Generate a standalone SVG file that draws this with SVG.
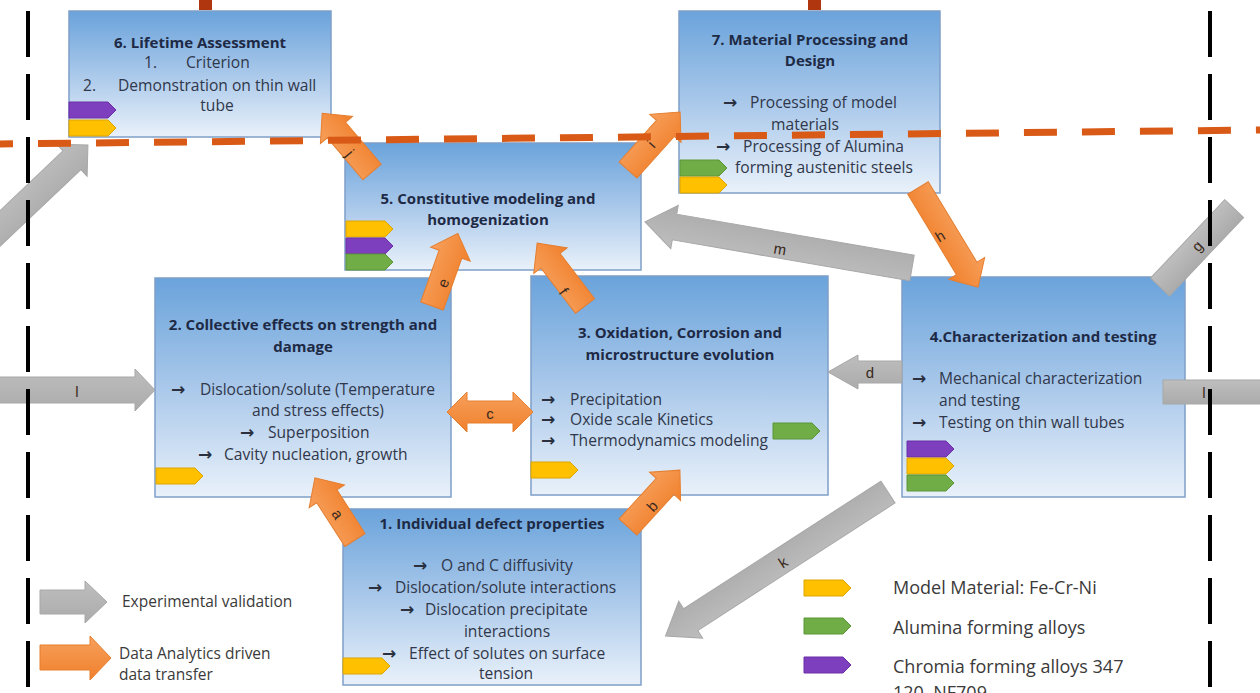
<svg xmlns="http://www.w3.org/2000/svg" xmlns:xlink="http://www.w3.org/1999/xlink" width="1260" height="693" viewBox="0 0 1260 693">
<style>
  .box{fill:url(#boxg);stroke:#7F9FC9;stroke-width:1.5}
  .t{font-family:"Open Sans","Liberation Sans",sans-serif;font-weight:bold;font-size:15px;fill:#1E2A45;text-anchor:middle}
  .b{font-family:"Open Sans","Liberation Sans",sans-serif;font-size:15.6px;fill:#30374A}
  .ar{font-family:"DejaVu Sans",sans-serif;font-weight:bold;font-size:17px;fill:#2A3040}
  .c{text-anchor:middle}
  .lg{font-family:"Open Sans","Liberation Sans",sans-serif;font-size:15.5px;fill:#3A3A3A}
  .lg2{font-family:"Open Sans","Liberation Sans",sans-serif;font-size:18px;fill:#3A3A3A}
  .or{fill:url(#org);stroke:#E57E2F;stroke-width:1}
  .gr{fill:url(#gry);stroke:#A8A8A8;stroke-width:1}
  .lab{font-family:"Liberation Sans",sans-serif;font-size:15px;fill:#3A2A20;text-anchor:middle;dominant-baseline:central}
  .y{fill:#FFC000;stroke:#DDA500;stroke-width:1}
  .g{fill:#70AD47;stroke:#5C9638;stroke-width:1}
  .p{fill:#7E3FBF;stroke:#6A2FA6;stroke-width:1}
  .kd{stroke:#000;stroke-width:4;stroke-dasharray:46 17;fill:none}
  .od{stroke:#D95A16;stroke-width:7;stroke-dasharray:33 25;fill:none}
</style>
<defs>
  <linearGradient id="boxg" x1="0" y1="0" x2="0" y2="1">
    <stop offset="0" stop-color="#6AA3DB"/>
    <stop offset="0.5" stop-color="#A9C8EA"/>
    <stop offset="1" stop-color="#E9F1FA"/>
  </linearGradient>
  <linearGradient id="org" x1="0" y1="0" x2="0" y2="1">
    <stop offset="0" stop-color="#F7A05C"/>
    <stop offset="1" stop-color="#F0802C"/>
  </linearGradient>
  <linearGradient id="gry" x1="0" y1="0" x2="0" y2="1">
    <stop offset="0" stop-color="#BEBEBE"/>
    <stop offset="1" stop-color="#ABABAB"/>
  </linearGradient>
  <path id="tag" d="M0,0 H39 L47,8 L39,16 H0 Z"/>
</defs>
<rect width="1260" height="693" fill="#FFFFFF"/>

<g id="node6">
  <rect class="box" x="69" y="11" width="262" height="126"/>
  <text class="t" x="200" y="48">6. Lifetime Assessment</text>
  <text class="b" x="144" y="68">1.</text>
  <text class="b" x="186" y="68">Criterion</text>
  <text class="b" x="83" y="91">2.</text>
  <text class="b" x="118" y="91">Demonstration on thin wall</text>
  <text class="b c" x="217" y="111">tube</text>
  <use href="#tag" class="p" x="69" y="102"/>
  <use href="#tag" class="y" x="69" y="120"/>
</g>

<g id="node7">
  <rect class="box" x="679" y="11" width="261" height="182"/>
  <text class="t" x="810" y="45">7. Material Processing and</text>
  <text class="t" x="810" y="66">Design</text>
  <text class="ar" x="723" y="108">→</text>
  <text class="b" x="750" y="108">Processing of model</text>
  <text class="b c" x="805" y="130">materials</text>
  <text class="ar" x="716" y="152">→</text>
  <text class="b" x="743" y="152">Processing of Alumina</text>
  <text class="b" x="735" y="173">forming austenitic steels</text>
  <use href="#tag" class="g" x="680" y="160"/>
  <use href="#tag" class="y" x="680" y="177"/>
</g>

<g id="node5">
  <rect class="box" x="345" y="143" width="296" height="127"/>
  <text class="t" x="488" y="204">5. Constitutive modeling and</text>
  <text class="t" x="488" y="225">homogenization</text>
  <use href="#tag" class="y" x="346" y="221"/>
  <use href="#tag" class="p" x="346" y="238"/>
  <use href="#tag" class="g" x="346" y="254"/>
</g>

<g id="node2">
  <rect class="box" x="155" y="278" width="296" height="219"/>
  <text class="t" x="303" y="330">2. Collective effects on strength and</text>
  <text class="t" x="303" y="352">damage</text>
  <text class="ar" x="171" y="395">→</text>
  <text class="b" x="200" y="395">Dislocation/solute (Temperature</text>
  <text class="b c" x="318" y="416">and stress effects)</text>
  <text class="ar" x="240" y="438">→</text>
  <text class="b" x="268" y="438">Superposition</text>
  <text class="ar" x="198" y="460">→</text>
  <text class="b" x="224" y="460">Cavity nucleation, growth</text>
  <use href="#tag" class="y" x="156" y="468"/>
</g>

<g id="node3">
  <rect class="box" x="531" y="276" width="297" height="219"/>
  <text class="t" x="680" y="338">3. Oxidation, Corrosion and</text>
  <text class="t" x="680" y="360">microstructure evolution</text>
  <text class="ar" x="541" y="405">→</text>
  <text class="b" x="570" y="405">Precipitation</text>
  <text class="ar" x="541" y="425">→</text>
  <text class="b" x="570" y="425">Oxide scale Kinetics</text>
  <text class="ar" x="541" y="446">→</text>
  <text class="b" x="570" y="446">Thermodynamics modeling</text>
  <use href="#tag" class="g" x="773" y="423"/>
  <use href="#tag" class="y" x="531" y="462"/>
</g>

<g id="node4">
  <rect class="box" x="902" y="277" width="283" height="220"/>
  <text class="t" x="1043" y="342">4.Characterization and testing</text>
  <text class="ar" x="912" y="384">→</text>
  <text class="b" x="939" y="384">Mechanical characterization</text>
  <text class="b" x="939" y="406">and testing</text>
  <text class="ar" x="912" y="428">→</text>
  <text class="b" x="939" y="428">Testing on thin wall tubes</text>
  <use href="#tag" class="p" x="907" y="441"/>
  <use href="#tag" class="y" x="907" y="458"/>
  <use href="#tag" class="g" x="907" y="475"/>
</g>

<g id="node1">
  <rect class="box" x="343" y="509" width="298" height="176"/>
  <text class="t" x="492" y="529">1. Individual defect properties</text>
  <text class="ar" x="413" y="571">→</text>
  <text class="b" x="441" y="571">O and C diffusivity</text>
  <text class="ar" x="368" y="593">→</text>
  <text class="b" x="395" y="593">Dislocation/solute interactions</text>
  <text class="ar" x="400" y="615">→</text>
  <text class="b" x="425" y="615">Dislocation precipitate</text>
  <text class="b c" x="507" y="637">interactions</text>
  <text class="ar" x="382" y="659">→</text>
  <text class="b" x="409" y="659">Effect of solutes on surface</text>
  <text class="b c" x="506" y="679">tension</text>
  <use href="#tag" class="y" x="343" y="658"/>
</g>

<g id="connectors">
  <polygon class="or" transform="translate(355,540) rotate(-122.8)" points="0,-12 52,-12 52,-21 74,0 52,21 52,12 0,12"/>
  <text class="lab" transform="translate(338,514) rotate(57)">a</text>
  <polygon class="or" transform="translate(628,527) rotate(-47.6)" points="0,-12 55,-12 55,-21 77,0 55,21 55,12 0,12"/>
  <text class="lab" transform="translate(652,506) rotate(-47)">b</text>
  <polygon class="or" points="447,412 467,392 467,401 513,401 513,392 533,412 513,432 513,423 467,423 467,432"/>
  <text class="lab" x="490" y="413">c</text>
  <polygon class="or" transform="translate(432,306) rotate(-70.4)" points="0,-12 55,-12 55,-21 77,0 55,21 55,12 0,12"/>
  <text class="lab" transform="translate(443,283) rotate(-70)">e</text>
  <polygon class="or" transform="translate(585,306) rotate(-127.3)" points="0,-12 57,-12 57,-21 79,0 57,21 57,12 0,12"/>
  <text class="lab" transform="translate(564,291) rotate(53)">f</text>
  <polygon class="or" transform="translate(372,172) rotate(-130.3)" points="0,-12 55,-12 55,-21 77,0 55,21 55,12 0,12"/>
  <text class="lab" transform="translate(350,153) rotate(50)">j</text>
  <polygon class="or" transform="translate(628,170) rotate(-48.1)" points="0,-12 56,-12 56,-21 78,0 56,21 56,12 0,12"/>
  <text class="lab" transform="translate(651,144) rotate(-48)">i</text>
  <polygon class="or" transform="translate(918,188) rotate(58.8)" points="0,-12 94,-12 94,-21 116,0 94,21 94,12 0,12"/>
  <text class="lab" transform="translate(940,236) rotate(-31)">h</text>

  <polygon class="gr" transform="translate(-10,238) rotate(-43.5)" points="0,-13 113,-13 113,-22 135,0 113,22 113,13 0,13"/>
  <polygon class="gr" points="-5,377 135,377 135,369 155,390 135,411 135,403 -5,403"/>
  <text class="lab" x="77" y="391">l</text>
  <polygon class="gr" transform="translate(912,268) rotate(-170.2)" points="0,-13 241,-13 241,-22 271,0 241,22 241,13 0,13"/>
  <text class="lab" transform="translate(780,249) rotate(9.8)">m</text>
  <polygon class="gr" points="902,361 858,361 858,355 828,372 858,389 858,383 902,383"/>
  <text class="lab" x="870" y="372">d</text>
  <polygon class="gr" transform="translate(1160,287) rotate(-46.6)" points="0,-13 108,-13 108,13 0,13"/>
  <text class="lab" transform="translate(1197,246) rotate(-46.6)">g</text>
  <rect class="gr" x="1163" y="380" width="100" height="24"/>
  <text class="lab" x="1204" y="392">l</text>
  <polygon class="gr" transform="translate(888,492) rotate(147.1)" points="0,-13 235,-13 235,-22 265,0 235,22 235,13 0,13"/>
  <text class="lab" transform="translate(783,562) rotate(-33)">k</text>
</g>

<g id="legend">
  <polygon class="gr" points="40,590 85,590 85,581 107,602 85,623 85,614 40,614"/>
  <text class="lg" x="122" y="607">Experimental validation</text>
  <polygon class="or" points="40,645 90,645 90,636 111,658 90,680 90,670 40,670"/>
  <text class="lg" x="119" y="659">Data Analytics driven</text>
  <text class="lg" x="119" y="680">data transfer</text>
  <use href="#tag" class="y" x="804" y="580"/>
  <text class="lg2" x="893" y="594">Model Material: Fe-Cr-Ni</text>
  <use href="#tag" class="g" x="804" y="618"/>
  <text class="lg2" x="893" y="634">Alumina forming alloys</text>
  <use href="#tag" class="p" x="804" y="657"/>
  <text class="lg2" x="893" y="673">Chromia forming alloys 347</text>
  <text class="lg2" x="893" y="699">120, NF709</text>
</g>

<g id="dividers">
  <line class="kd" x1="28" y1="11" x2="28" y2="693"/>
  <line class="kd" x1="1210" y1="11" x2="1210" y2="693"/>
  <line class="od" x1="0" y1="144" x2="1260" y2="130" stroke-dashoffset="20"/>
  <rect x="199" y="0" width="13" height="10" fill="#B0360F"/>
  <rect x="808" y="0" width="13" height="10" fill="#B0360F"/>
</g>
</svg>
